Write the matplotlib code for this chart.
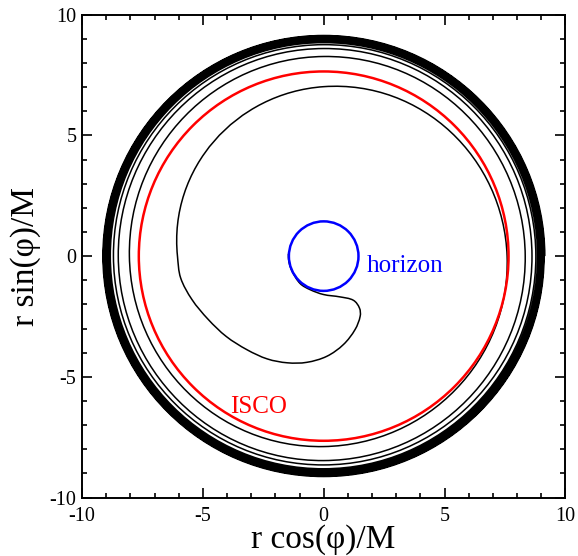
import numpy as np
import matplotlib
matplotlib.use("Agg")
import matplotlib.pyplot as plt
from matplotlib.path import Path
from matplotlib.patches import PathPatch, Circle
from matplotlib.ticker import MultipleLocator

plt.rcParams['font.family'] = ['Liberation Serif', 'DejaVu Serif']
plt.rcParams['axes.unicode_minus'] = False

# orbit radius every quarter turn (counter-clockwise, starting at phi = 0)
orbit_r = [
    9.15, 9.14, 9.135, 9.13,
    9.12, 9.115, 9.11, 9.10,
    9.095, 9.085, 9.08, 9.07,
    9.06, 9.055, 9.05, 9.04,
    9.035, 9.03, 9.02, 9.01,
    9.005, 9.00, 8.99, 8.98,
    8.97, 8.965, 8.955, 8.945,
    8.935, 8.93, 8.915, 8.905,
    8.895, 8.89, 8.875, 8.86,
    8.85, 8.845, 8.83, 8.81,
    8.78, 8.76, 8.70, 8.65,
    8.62, 8.60, 8.50, 8.47,
    8.34, 8.27, 8.04, 7.89,
    7.59, 7.02, 6.05,
]
# plunge into the hole after the last quarter turn
plunge_x = [-5.92, -5.45, -4.78, -4.03, -3.17, -2.33, -1.50, -0.70, 0.13, 0.82,
            1.30, 1.51, 1.48, 1.23, 0.68, -0.01, -0.56, -0.97, -1.30, -1.44, -1.46]
plunge_y = [-0.90, -1.80, -2.62, -3.33, -3.88, -4.26, -4.42, -4.40, -4.15, -3.66,
            -3.04, -2.49, -2.15, -1.83, -1.69, -1.59, -1.39, -1.14, -0.64, -0.23, 0.10]

isco_r = 7.65
horizon_r = 1.44
ticks = [-10, -5, 0, 5, 10]


def orbit_path():
    # anchors on the spiral: tangent from r(phi), anchors on the plunge: from neighbours
    r = np.array(orbit_r)
    phi = np.arange(len(r)) * np.pi / 2
    dr = np.gradient(r, phi)
    x = np.concatenate([r * np.cos(phi), plunge_x])
    y = np.concatenate([r * np.sin(phi), plunge_y])
    tx = np.gradient(x)
    ty = np.gradient(y)
    n = len(r)
    tx[:n] = dr * np.cos(phi) - r * np.sin(phi)
    ty[:n] = dr * np.sin(phi) + r * np.cos(phi)
    norm = np.hypot(tx, ty)
    tx, ty = tx / norm, ty / norm

    verts = [(x[0], y[0])]
    codes = [Path.MOVETO]
    for i in range(len(x) - 1):
        d = np.hypot(x[i + 1] - x[i], y[i + 1] - y[i])
        cth = np.clip(tx[i] * tx[i + 1] + ty[i] * ty[i + 1], -1, 1)
        th = np.arccos(cth)
        h = d / (3 * np.cos(th / 4) ** 2)
        verts += [(x[i] + h * tx[i], y[i] + h * ty[i]),
                  (x[i + 1] - h * tx[i + 1], y[i + 1] - h * ty[i + 1]),
                  (x[i + 1], y[i + 1])]
        codes += [Path.CURVE4] * 3
    return Path(verts, codes)


fig = plt.figure(figsize=(5.78, 5.56), dpi=100)
ax = fig.add_axes([0.1419, 0.1052, 0.8362, 0.8683])

ax.add_patch(PathPatch(orbit_path(), facecolor='none', edgecolor='black', lw=1.1))
ax.add_patch(Circle((0, 0), isco_r, facecolor='none', edgecolor='#ff0000', lw=1.8))
ax.add_patch(Circle((0, 0), horizon_r, facecolor='none', edgecolor='#0000ff', lw=1.8))

ax.text(1.8, -0.4, 'horizon', color='#0000ff', fontsize=18, va='center', ha='left')
ax.text(-3.87, -6.23, 'ISCO', color='#ff0000', fontsize=18, va='center', ha='left')

ax.set_xlim(-10, 10)
ax.set_ylim(-10, 10)
ax.set_xticks(ticks)
ax.set_yticks(ticks)
ax.xaxis.set_minor_locator(MultipleLocator(1))
ax.yaxis.set_minor_locator(MultipleLocator(1))
ax.tick_params(which='both', direction='in', top=True, right=True, width=1.2,
               labelsize=14.5)
ax.tick_params(which='major', length=7.2)
ax.tick_params(which='minor', length=3.6)
ax.tick_params(axis='x', pad=7)
ax.tick_params(axis='y', pad=4)
for s in ax.spines.values():
    s.set_linewidth(1.4)

ax.set_xlabel('r cos(φ)/M', fontsize=24, labelpad=-1.5)
ax.set_ylabel('r sin(φ)/M', fontsize=24, labelpad=6)

fig.savefig('out.png', dpi=100)
